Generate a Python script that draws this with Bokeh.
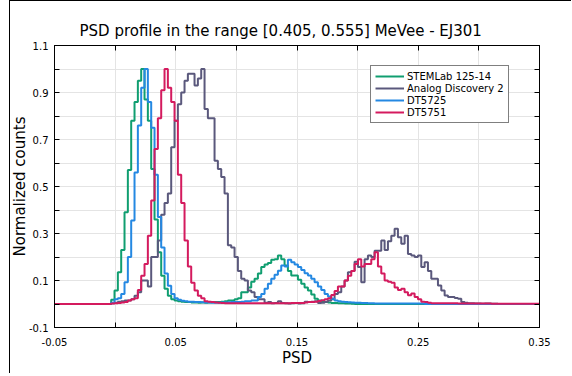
import numpy as np
from bokeh.plotting import figure
from bokeh.models import (FixedTicker, LinearAxis, Range1d, PrintfTickFormatter, Title)
from bokeh.embed import file_html
from bokeh.resources import INLINE

# ---------------- data ----------------
BIN_START = -0.05
BIN_WIDTH = 0.00275

stemlab = [0, 0, 0, 0, 0, 0, 0, 0, 0, 0,
           0, 0, 0, 0, 0, 0, 0, 0.018, 0.057, 0.135,
           0.23, 0.39, 0.57, 0.78, 0.86, 0.95, 1.0, 0.87, 0.78, 0.575,
           0.36, 0.22, 0.12, 0.065, 0.035, 0.02, 0.015, 0.012, 0.01, 0.008,
           0.008, 0.006, 0.006, 0.005, 0.006, 0.005, 0.006, 0.007, 0.008, 0.008,
           0.01, 0.012, 0.015, 0.015, 0.02, 0.025, 0.05, 0.05, 0.07, 0.095,
           0.107, 0.13, 0.157, 0.168, 0.175, 0.188, 0.19, 0.206, 0.19, 0.164,
           0.14, 0.121, 0.121, 0.103, 0.086, 0.07, 0.057, 0.04, 0.022, 0.015,
           0.01, 0.008, 0.006, 0.004, 0.004, 0.003, 0.003, 0.002, 0.002, 0.001,
           0, 0, 0, 0, 0, 0, 0, 0, 0, 0,
           0, 0, 0, 0, 0, 0, 0, 0, 0, 0,
           0, 0, 0, 0, 0, 0, 0, 0, 0, 0,
           0, 0, 0, 0, 0, 0, 0, 0, 0, 0,
           0, 0, 0, 0, 0, 0, 0, 0, 0, 0,
           0, 0, 0, 0, 0, 0]

analog = [0, 0, 0, 0, 0, 0, 0, 0, 0, 0,
          0, 0, 0, 0, 0, 0, 0, 0.003, 0.005, 0.01,
          0.012, 0.015, 0.015, 0.02, 0.035, 0.05, 0.1, 0.1, 0.075, 0.2,
          0.2, 0.27, 0.38, 0.43, 0.47, 0.667, 0.78, 0.85, 0.9, 0.95,
          0.98, 0.98, 0.93, 0.96, 1.0, 0.83, 0.79, 0.79, 0.61, 0.575,
          0.54, 0.47, 0.25, 0.24, 0.2, 0.14, 0.107, 0.1, 0.057, 0.05,
          0.03, 0.02, 0.02, 0.005, 0.008, 0.003, 0.004, 0.012, 0.004, 0.003,
          0.002, 0.003, 0.004, 0.002, 0.003, 0.01, 0.008, 0.01, 0.012, 0.004,
          0.005, 0.01, 0.015, 0.02, 0.043, 0.05, 0.075, 0.1, 0.135, 0.14,
          0.18, 0.157, 0.093, 0.19, 0.206, 0.2, 0.227, 0.227, 0.27, 0.23,
          0.267, 0.29, 0.32, 0.284, 0.256, 0.29, 0.213, 0.206, 0.2, 0.206,
          0.157, 0.178, 0.14, 0.107, 0.107, 0.079, 0.057, 0.036, 0.03, 0.03,
          0.026, 0.022, 0.008, 0.005, 0.003, 0.003, 0.002, 0.002, 0.001, 0.002,
          0.002, 0.001, 0.001, 0, 0, 0, 0, 0, 0, 0,
          0, 0, 0, 0, 0, 0]

dt5725 = [0, 0, 0, 0, 0, 0, 0, 0, 0, 0,
          0, 0, 0, 0, 0, 0, 0, 0.005, 0.02, 0.025,
          0.043, 0.093, 0.2, 0.355, 0.56, 0.76, 0.92, 1.0, 0.86, 0.75,
          0.55, 0.37, 0.24, 0.13, 0.078, 0.043, 0.025, 0.018, 0.014, 0.012,
          0.01, 0.01, 0.008, 0.008, 0.007, 0.006, 0.006, 0.005, 0.005, 0.005,
          0.006, 0.006, 0.007, 0.008, 0.008, 0.009, 0.01, 0.012, 0.012, 0.015,
          0.015, 0.03, 0.043, 0.065, 0.086, 0.107, 0.125, 0.142, 0.164, 0.16,
          0.188, 0.178, 0.168, 0.157, 0.145, 0.131, 0.121, 0.107, 0.093, 0.074,
          0.06, 0.043, 0.032, 0.022, 0.015, 0.012, 0.01, 0.008, 0.007, 0.006,
          0.005, 0.005, 0.004, 0.004, 0.003, 0.003, 0.002, 0.002, 0.002, 0.002,
          0.002, 0.002, 0.002, 0.002, 0.002, 0.002, 0.002, 0.002, 0.002, 0.002,
          0.002, 0, 0, 0, 0, 0, 0, 0, 0, 0,
          0, 0, 0, 0, 0, 0, 0, 0, 0, 0,
          0, 0, 0, 0, 0, 0, 0, 0, 0, 0,
          0, 0, 0, 0, 0, 0]

dt5751 = [0, 0, 0, 0, 0, 0, 0, 0, 0, 0,
          0, 0, 0, 0, 0, 0, 0, 0.002, 0.003, 0.004,
          0.006, 0.008, 0.015, 0.02, 0.025, 0.06, 0.12, 0.17, 0.29, 0.44,
          0.66, 0.79, 0.91, 1.0, 0.92, 0.86, 0.78, 0.55, 0.43, 0.27,
          0.16, 0.09, 0.057, 0.035, 0.025, 0.012, 0.01, 0.008, 0.006, 0.005,
          0.004, 0.003, 0.003, 0.003, 0.003, 0.003, 0.003, 0.003, 0.003, 0.003,
          0.003, 0.003, 0.003, 0.003, 0.003, 0.003, 0.003, 0.003, 0.003, 0.003,
          0.003, 0.004, 0.004, 0.004, 0.004, 0.006, 0.008, 0.008, 0.01, 0.013,
          0.016, 0.02, 0.025, 0.038, 0.055, 0.075, 0.075, 0.1, 0.12, 0.14,
          0.17, 0.19, 0.16, 0.17, 0.17, 0.19, 0.22, 0.16, 0.13, 0.1,
          0.095, 0.09, 0.07, 0.06, 0.065, 0.05, 0.037, 0.045, 0.03, 0.02,
          0.01, 0.008, 0.005, 0.003, 0.003, 0.003, 0.003, 0.003, 0.003, 0.003,
          0.003, 0.002, 0.002, 0.002, 0.002, 0.002, 0.002, 0.002, 0.002, 0.002,
          0.002, 0.001, 0.001, 0.001, 0.001, 0.001, 0.001, 0.001, 0.001, 0.001,
          0.001, 0.001, 0.001, 0.001, 0.001, 0.001]

series_names = ["STEMLab 125-14", "Analog Discovery 2", "DT5725", "DT5751"]
series_values = [stemlab, analog, dt5725, dt5751]
series_colors = ["#109e70", "#5a587c", "#2488e2", "#d41a5e"]

x_major = [-0.05, 0.05, 0.15, 0.25, 0.35]
x_minor = [0.0, 0.1, 0.2, 0.3]
y_major = [-0.1, 0.1, 0.3, 0.5, 0.7, 0.9, 1.1]
y_minor = [0.0, 0.2, 0.4, 0.6, 0.8, 1.0]

TITLE = "PSD profile in the range [0.405, 0.555] MeVee - EJ301"
X_LABEL = "PSD"
Y_LABEL = "Normalized counts"
FONT = "DejaVu Sans"

# ---------------- figure ----------------
p = figure(width=562, height=373,
           x_range=Range1d(-0.05, 0.35), y_range=Range1d(-0.1, 1.1),
           output_backend="svg", toolbar_location=None,
           min_border_left=44, min_border_right=33,
           min_border_top=44, min_border_bottom=47,
           x_axis_label=X_LABEL)
p.margin = (0, 0, 0, 9)
p.styles = {"border-left": "1px solid black", "border-top": "1px solid black"}
p.background_fill_color = "white"
p.border_fill_color = "white"
p.outline_line_color = "black"
p.outline_line_width = 1

xt = FixedTicker(ticks=x_major, minor_ticks=x_minor)
yt = FixedTicker(ticks=y_major, minor_ticks=y_minor)

for ax, tk, fmt in ((p.xaxis[0], xt, "%.2f"), (p.yaxis[0], yt, "%.1f")):
    ax.ticker = tk
    ax.formatter = PrintfTickFormatter(format=fmt)
    ax.major_label_text_font = FONT
    ax.major_label_text_font_size = "10px"
    ax.major_label_text_color = "black"
    ax.axis_label_text_font = FONT
    ax.axis_label_text_font_size = "15px"
    ax.axis_label_text_font_style = "normal"
    ax.axis_label_text_color = "black"
    ax.major_tick_in = 5
    ax.major_tick_out = 0
    ax.minor_tick_in = 5
    ax.minor_tick_out = 0
    ax.major_tick_line_color = "black"
    ax.minor_tick_line_color = "black"
    ax.axis_line_color = "black"

p.xaxis[0].major_label_standoff = 10
p.xaxis[0].axis_label_standoff = 0
p.yaxis[0].major_label_standoff = 6

# mirrored ticks on the top and right edges (no labels)
for side, tks in (("above", x_major + x_minor), ("right", y_major + y_minor)):
    ax = LinearAxis(ticker=FixedTicker(ticks=[], minor_ticks=sorted(tks)),
                    major_tick_in=0, major_tick_out=0,
                    minor_tick_in=5, minor_tick_out=0,
                    minor_tick_line_color="black",
                    axis_line_color="black")
    p.add_layout(ax, side)

for g, tk in ((p.xgrid[0], xt), (p.ygrid[0], yt)):
    g.ticker = tk
    g.grid_line_color = "#e4e4e4"
    g.minor_grid_line_color = "#e4e4e4"
    g.grid_line_width = 1
    g.minor_grid_line_width = 1

for name, vals, col in zip(series_names, series_values, series_colors):
    edges = BIN_START + BIN_WIDTH * np.arange(len(vals) + 1)
    ys = list(vals) + [vals[-1]]
    p.step(edges, ys, mode="after", line_width=2, line_color=col, legend_label=name)

# title (with a small spacer above it) and y-axis label as side titles
p.add_layout(Title(text=TITLE, align="left", offset=25, standoff=12,
                   text_font=FONT, text_font_size="15px",
                   text_font_style="normal", text_color="black"), "above")
p.add_layout(Title(text=" ", text_font_size="1px", standoff=2), "above")
p.add_layout(Title(text=Y_LABEL, align="center", standoff=-6,
                   text_font=FONT, text_font_size="15px",
                   text_font_style="normal", text_color="black"), "left")

lg = p.legend[0]
lg.location = (316, 204)
lg.margin = 0
lg.padding = 4
lg.spacing = 0
lg.glyph_width = 29
lg.glyph_height = 12
lg.label_height = 12
lg.label_standoff = 3
lg.label_text_font = FONT
lg.label_text_font_size = "10px"
lg.label_text_color = "black"
lg.border_line_color = "black"
lg.border_line_width = 1
lg.background_fill_color = "white"
lg.background_fill_alpha = 1.0

open("out.html", "w").write(file_html(p, INLINE))
